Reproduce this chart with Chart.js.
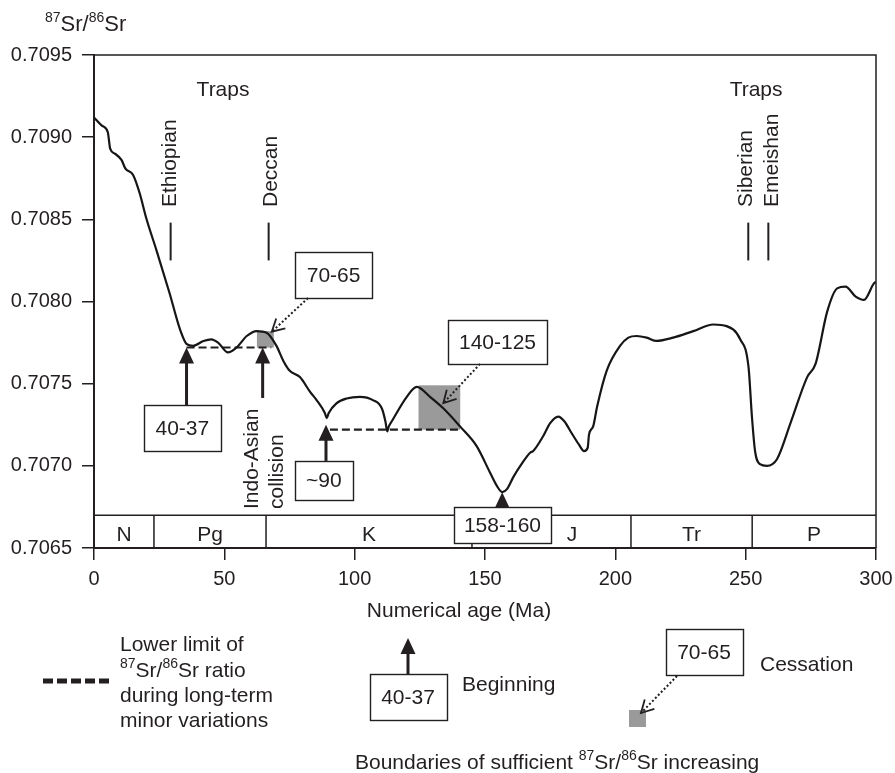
<!DOCTYPE html>
<html>
<head>
<meta charset="utf-8">
<script src="https://cdn.jsdelivr.net/npm/chart.js@4.4.1/dist/chart.umd.min.js"></script>
<style>
  html, body { margin: 0; padding: 0; background: #ffffff; }
  canvas { display: block; }
</style>
</head>
<body>
<canvas id="c" width="895" height="773"></canvas>
<script>
// ---- Seawater 87Sr/86Sr curve, 0–300 Ma ----
const ages = [0, 3, 5.3, 6.2, 8, 10.6, 12, 15, 17.5, 20, 24, 29, 33, 35.6, 38, 42, 45, 47.6, 51.4, 54.7,
  58.6, 62.4, 66.2, 70, 72.6, 75, 79, 82.9, 85.4, 88.6, 89.3, 90.0, 93, 96.9, 102, 107, 110.4, 111.8,
  112.5, 113.1, 114.2, 120, 123.8, 128.9, 134, 140.4, 146.8, 151.9, 154.5, 156.6, 158.5, 160.8, 164,
  167.3, 168.5, 172.3, 175, 178.1, 180.5, 183.2, 186, 188, 189.4, 189.9, 191.5, 193, 196.7, 201.8, 205,
  208.2, 212, 215.8, 222.2, 229.9, 237.6, 242.7, 247.9, 251.1, 252.4, 253.6, 255.5, 258.1, 262, 267.2,
  273.6, 276.8, 281.3, 285.1, 288.3, 292.2, 295.4, 299.2, 300];
const ratios = [0.70912, 0.70907, 0.70903, 0.70893, 0.70890, 0.70886, 0.70881, 0.70877, 0.70866, 0.70851,
  0.70831, 0.70805, 0.70783, 0.70774, 0.70773, 0.70776, 0.70777, 0.70775, 0.70769, 0.70772,
  0.70779, 0.70782, 0.70781, 0.70773, 0.70764, 0.70758, 0.70754, 0.70745, 0.70740, 0.70732, 0.70729, 0.70732,
  0.70738, 0.70741, 0.70742, 0.70740, 0.70735, 0.70727, 0.70721, 0.70724, 0.70727, 0.70742, 0.70748,
  0.70742, 0.70735, 0.70724, 0.70712, 0.70696, 0.70688, 0.70684, 0.70686, 0.70693, 0.70701,
  0.70708, 0.70709, 0.70718, 0.70726, 0.70730, 0.70727, 0.70720, 0.70713, 0.70709, 0.70711, 0.70719,
  0.70724, 0.70736, 0.70758, 0.70773, 0.70778, 0.70779, 0.70778, 0.70776, 0.70778, 0.70782, 0.70786,
  0.70785, 0.70777, 0.70760, 0.70730, 0.70709, 0.70701, 0.70700, 0.70704, 0.70726, 0.70754, 0.70762,
  0.70794, 0.70808, 0.70809, 0.70803, 0.70801, 0.70811, 0.70812];

// axis ticks
const yTicks = [0.7065, 0.7070, 0.7075, 0.7080, 0.7085, 0.7090, 0.7095];
const xTicks = [0, 50, 100, 150, 200, 250, 300];

// geological periods (Ma)
const periodNames = ['N', 'Pg', 'K', 'J', 'Tr', 'P'];
const periodBounds = [0, 23, 66, 145, 206, 252.5, 300];

// lower limit of the ratio during long-term minor variations
const lowerLimitFrom = [35.5, 90.5];
const lowerLimitTo = [68, 140.4];
const lowerLimitLevel = [0.70772, 0.70722];

// windows of sufficient increase (grey squares)
const riseFrom = [62.5, 124.5];
const riseTo = [69, 140.5];
const riseLow = [0.70772, 0.70722];
const riseHigh = [0.70782, 0.70749];

// large igneous provinces
const trapNames = ['Ethiopian', 'Deccan', 'Siberian', 'Emeishan'];
const trapAges = [29.4, 67, 251, 258.7];

// beginnings (solid arrows) and cessations (dotted arrows)
const beginLabels = ['40-37', '~90', '158-160'];
const beginAges = [35.5, 89, 156.6];
const beginLevels = [0.70772, 0.70725, 0.70684];
const endLabels = ['70-65', '140-125'];
const endAges = [68.2, 134.0];
const endLevels = [0.707816, 0.707381];

// ---- drawing settings ----
const FONT = '"Liberation Sans", Arial, Helvetica, sans-serif';
const INK = '#231f20';
const GREY = '#9a9a9a';
const TXT = 21;

// placement of the annotation boxes, in axis units (age, ratio) plus pixel sizes
const boxLayout = {
  '40-37':   { age: 33.9,  ratio: 0.707230, w: 77, h: 46 },
  '~90':     { age: 88.2,  ratio: 0.706911, w: 58, h: 39 },
  '158-160': { age: 156.7, ratio: 0.706640, w: 97, h: 36 },
  '70-65':   { age: 91.9,  ratio: 0.708161, w: 77, h: 46 },
  '140-125': { age: 154.8, ratio: 0.707754, w: 99, h: 44 }
};
const endStartAge = { '70-65': 82.1, '140-125': 148.1 };
const trapLabelAge = [31.45, 70.1, 252.3, 262.5];
const trapBarTop = 0.70848, trapBarBottom = 0.70825, trapLabelBottom = 0.708575;
const trapsTitle = [{ age: 49.5 }, { age: 254 }], trapsTitleRatio = 0.709287;
const collisionArrow = { age: 64.7, tip: 0.70772, tail: 0.707413 };
const collisionText = { ages: [62.9, 72.6], bottom: 0.706737 };
const bandTop = 0.7067;
const periodLabelAge = { J: 183.4 };

const curve = ages.map((a, i) => ({ x: a, y: ratios[i] }));
const lowerLimitSets = lowerLimitFrom.map((a, i) => ({
  data: [{ x: a, y: lowerLimitLevel[i] }, { x: lowerLimitTo[i], y: lowerLimitLevel[i] }],
  borderColor: INK, borderWidth: 2.2, borderDash: [8, 4], pointRadius: 0, fill: false, tension: 0
}));

function font(size) { return size + 'px ' + FONT; }

// text with superscript pieces, e.g. 87Sr/86Sr
function richText(ctx, parts, x, y, size, supSize) {
  let cx = x;
  ctx.textAlign = 'left';
  ctx.textBaseline = 'alphabetic';
  parts.forEach(p => {
    if (p.sup) {
      ctx.font = font(supSize || Math.round(size * 0.66));
      ctx.fillText(p.t, cx, y - size * 0.42);
    } else {
      ctx.font = font(size);
      ctx.fillText(p.t, cx, y);
    }
    cx += ctx.measureText(p.t).width;
  });
  return cx - x;
}
const SR = [{ t: '87', sup: true }, { t: 'Sr/' }, { t: '86', sup: true }, { t: 'Sr' }];

function textBox(ctx, label, cx, cy, w, h) {
  ctx.fillStyle = '#ffffff';
  ctx.fillRect(cx - w / 2, cy - h / 2, w, h);
  ctx.strokeStyle = INK;
  ctx.lineWidth = 1.4;
  ctx.strokeRect(Math.round(cx - w / 2) + 0.5, Math.round(cy - h / 2) + 0.5, w, h);
  ctx.fillStyle = INK;
  ctx.font = font(TXT);
  ctx.textAlign = 'center';
  ctx.textBaseline = 'middle';
  ctx.fillText(label, cx, cy + 1);
}

function solidArrow(ctx, x, yTail, yTip) {
  const head = 16, half = 7.5;
  ctx.strokeStyle = INK;
  ctx.lineWidth = 3;
  ctx.beginPath();
  ctx.moveTo(x, yTail);
  ctx.lineTo(x, yTip + head - 1);
  ctx.stroke();
  ctx.fillStyle = INK;
  ctx.beginPath();
  ctx.moveTo(x, yTip);
  ctx.lineTo(x - half, yTip + head);
  ctx.lineTo(x + half, yTip + head);
  ctx.closePath();
  ctx.fill();
}

function dottedArrow(ctx, x0, y0, x1, y1) {
  ctx.strokeStyle = INK;
  ctx.lineWidth = 2;
  ctx.setLineDash([2, 2.2]);
  ctx.beginPath();
  ctx.moveTo(x0, y0);
  ctx.lineTo(x1, y1);
  ctx.stroke();
  ctx.setLineDash([]);
  const a = Math.atan2(y0 - y1, x0 - x1);
  const len = 14, spread = 0.5;
  ctx.lineWidth = 1.8;
  ctx.beginPath();
  ctx.moveTo(x1 + len * Math.cos(a + spread), y1 + len * Math.sin(a + spread));
  ctx.lineTo(x1, y1);
  ctx.lineTo(x1 + len * Math.cos(a - spread), y1 + len * Math.sin(a - spread));
  ctx.stroke();
}

function verticalText(ctx, text, xBaseline, yBottom) {
  ctx.save();
  ctx.translate(xBaseline, yBottom);
  ctx.rotate(-Math.PI / 2);
  ctx.font = font(TXT);
  ctx.textAlign = 'left';
  ctx.textBaseline = 'alphabetic';
  ctx.fillStyle = INK;
  ctx.fillText(text, 0, 0);
  ctx.restore();
}

const decor = {
  id: 'decor',
  beforeDatasetsDraw(chart) {
    const ctx = chart.ctx, X = v => chart.scales.x.getPixelForValue(v), Y = v => chart.scales.y.getPixelForValue(v);
    ctx.save();
    ctx.fillStyle = GREY;
    riseFrom.forEach((a, i) => {
      const x0 = X(a), x1 = X(riseTo[i]), y0 = Y(riseHigh[i]), y1 = Y(riseLow[i]);
      ctx.fillRect(x0, y0, x1 - x0, y1 - y0);
    });
    ctx.restore();
  },
  afterDatasetsDraw(chart) {
    const ctx = chart.ctx, area = chart.chartArea;
    const X = v => chart.scales.x.getPixelForValue(v), Y = v => chart.scales.y.getPixelForValue(v);
    ctx.save();

    // frame: top and right edges
    ctx.strokeStyle = INK;
    ctx.lineWidth = 1.5;
    ctx.beginPath();
    ctx.moveTo(area.left, area.top);
    ctx.lineTo(area.right, area.top);
    ctx.lineTo(area.right, area.bottom);
    ctx.stroke();

    // geological time band
    const bt = Y(bandTop), bb = area.bottom;
    ctx.lineWidth = 1.5;
    ctx.beginPath();
    ctx.moveTo(area.left, bt);
    ctx.lineTo(area.right, bt);
    periodBounds.slice(1, -1).forEach(b => { ctx.moveTo(X(b), bt); ctx.lineTo(X(b), bb); });
    ctx.stroke();
    ctx.fillStyle = INK;
    ctx.font = font(TXT);
    ctx.textAlign = 'center';
    ctx.textBaseline = 'middle';
    periodNames.forEach((n, i) => {
      const a = periodLabelAge[n] !== undefined ? periodLabelAge[n] : (periodBounds[i] + periodBounds[i + 1]) / 2;
      ctx.fillText(n, X(a), (bt + bb) / 2 + 4);
    });

    // traps
    ctx.font = font(TXT);
    ctx.textAlign = 'center';
    ctx.textBaseline = 'middle';
    trapsTitle.forEach(t => ctx.fillText('Traps', X(t.age), Y(trapsTitleRatio)));
    ctx.lineWidth = 2;
    trapAges.forEach((a, i) => {
      ctx.beginPath();
      ctx.moveTo(X(a), Y(trapBarTop));
      ctx.lineTo(X(a), Y(trapBarBottom));
      ctx.stroke();
      verticalText(ctx, trapNames[i], X(trapLabelAge[i]), Y(trapLabelBottom));
    });

    // Indo-Asian collision
    solidArrow(ctx, X(collisionArrow.age), Y(collisionArrow.tail), Y(collisionArrow.tip));
    verticalText(ctx, 'Indo-Asian', X(collisionText.ages[0]), Y(collisionText.bottom));
    verticalText(ctx, 'collision', X(collisionText.ages[1]), Y(collisionText.bottom));

    // beginnings: boxes with solid arrows
    beginLabels.forEach((lab, i) => {
      const b = boxLayout[lab];
      const cx = X(b.age), cy = Y(b.ratio);
      solidArrow(ctx, X(beginAges[i]), cy - b.h / 2, Y(beginLevels[i]));
      textBox(ctx, lab, cx, cy, b.w, b.h);
    });

    // cessations: boxes with dotted arrows
    endLabels.forEach((lab, i) => {
      const b = boxLayout[lab];
      const cx = X(b.age), cy = Y(b.ratio);
      textBox(ctx, lab, cx, cy, b.w, b.h);
      dottedArrow(ctx, X(endStartAge[lab]), cy + b.h / 2, X(endAges[i]), Y(endLevels[i]));
    });

    // axis titles
    ctx.fillStyle = INK;
    richText(ctx, SR, 45, 31, 22, 14);
    ctx.font = font(TXT);
    ctx.textAlign = 'center';
    ctx.textBaseline = 'middle';
    ctx.fillText('Numerical age (Ma)', 459, 611);

    // key
    ctx.strokeStyle = INK;
    ctx.lineWidth = 5;
    ctx.setLineDash([10, 4]);
    ctx.beginPath();
    ctx.moveTo(43, 681);
    ctx.lineTo(110, 681);
    ctx.stroke();
    ctx.setLineDash([]);
    ctx.fillStyle = INK;
    ctx.font = font(TXT);
    ctx.textAlign = 'left';
    ctx.textBaseline = 'middle';
    ctx.fillText('Lower limit of', 120, 645);
    ctx.fillText('during long-term', 120, 696);
    ctx.fillText('minor variations', 120, 721);
    richText(ctx, SR.concat([{ t: ' ratio' }]), 120, 677, TXT, 14);

    solidArrow(ctx, 408, 674, 638);
    textBox(ctx, '40-37', 408, 697, 77, 46);
    ctx.fillStyle = INK;
    ctx.font = font(TXT);
    ctx.textAlign = 'left';
    ctx.textBaseline = 'middle';
    ctx.fillText('Beginning', 462, 685);

    textBox(ctx, '70-65', 704, 652, 77, 46);
    ctx.fillStyle = INK;
    ctx.font = font(TXT);
    ctx.textAlign = 'left';
    ctx.textBaseline = 'middle';
    ctx.fillText('Cessation', 760, 665);
    ctx.fillStyle = GREY;
    ctx.fillRect(629, 710, 17, 17);
    dottedArrow(ctx, 677, 676, 641, 713);

    ctx.fillStyle = INK;
    richText(ctx, [{ t: 'Boundaries of sufficient ' }].concat(SR).concat([{ t: ' increasing' }]), 355, 769, TXT, 14);

    ctx.restore();
  }
};

new Chart(document.getElementById('c').getContext('2d'), {
  type: 'line',
  data: {
    datasets: [{
      data: curve,
      borderColor: '#161616',
      borderWidth: 2.2,
      pointRadius: 0,
      fill: false,
      cubicInterpolationMode: 'monotone'
    }].concat(lowerLimitSets)
  },
  options: {
    responsive: false,
    animation: false,
    devicePixelRatio: 1,
    layout: { padding: { top: 55, right: 19, left: 0, bottom: 0 } },
    plugins: { legend: { display: false }, tooltip: { enabled: false } },
    scales: {
      x: {
        type: 'linear', min: 0, max: 300,
        afterFit(s) { s.height = 225; s.paddingLeft = 0; s.paddingRight = 0; },
        afterBuildTicks(s) { s.ticks = xTicks.map(v => ({ value: v })); },
        grid: { drawOnChartArea: false, drawTicks: true, tickLength: 12, color: INK, lineWidth: 1.5 },
        border: { display: true, color: INK, width: 2 },
        ticks: { color: INK, font: { family: FONT, size: 20 }, padding: 7, maxRotation: 0, autoSkip: false }
      },
      y: {
        type: 'linear', min: 0.7065, max: 0.7095,
        afterFit(s) { s.width = 94; s.paddingTop = 0; s.paddingBottom = 0; },
        afterBuildTicks(s) { s.ticks = yTicks.map(v => ({ value: v })); },
        grid: { drawOnChartArea: false, drawTicks: true, tickLength: 12, color: INK, lineWidth: 1.5 },
        border: { display: true, color: INK, width: 2 },
        ticks: { color: INK, font: { family: FONT, size: 20 }, padding: 10, autoSkip: false,
                 callback: v => Number(v).toFixed(4) }
      }
    }
  },
  plugins: [decor]
});
</script>
</body>
</html>
